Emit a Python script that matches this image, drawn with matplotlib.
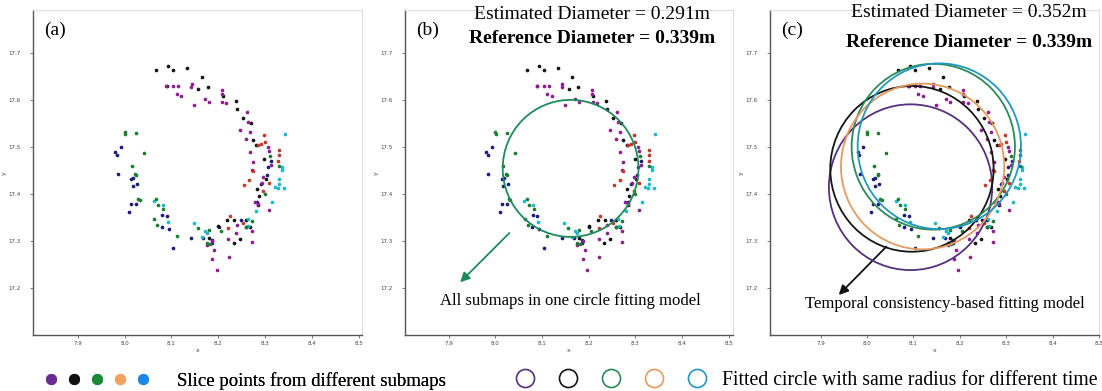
import matplotlib
matplotlib.use("Agg")
import matplotlib.pyplot as plt
from matplotlib.lines import Line2D
from matplotlib.legend_handler import HandlerTuple
from matplotlib.patches import Circle

plt.rcParams['font.family'] = ['DejaVu Sans']
SERIF = ['Liberation Serif', 'DejaVu Serif']

# ---- slice points from different submaps (x, y in metres) ----
navy_x = [7.983, 7.980, 7.992, 7.985, 8.013, 8.018, 8.017, 8.027, 8.013, 8.024, 8.009,
          8.080, 8.090, 8.079, 8.094, 8.104, 8.142, 8.168, 8.186, 8.186, 8.201, 8.283,
          8.290, 8.305, 8.312, 8.303, 8.248, 8.258]
navy_y = [17.483, 17.489, 17.500, 17.443, 17.431, 17.434, 17.417, 17.421, 17.379, 17.379, 17.361,
          17.355, 17.352, 17.329, 17.326, 17.285, 17.306, 17.307, 17.302, 17.296, 17.329, 17.382,
          17.421, 17.456, 17.469, 17.440, 17.345, 17.329]

black_x = [8.068, 8.093, 8.104, 8.134, 8.164, 8.090, 8.157, 8.177, 8.209, 8.237, 8.240,
           8.252, 8.270, 8.273, 8.281, 8.298, 8.282, 8.286, 8.285, 8.219, 8.234, 8.267,
           8.246, 8.233, 8.180, 8.200, 8.258, 8.301]
black_y = [17.663, 17.672, 17.663, 17.667, 17.649, 17.628, 17.622, 17.627, 17.607, 17.597, 17.580,
           17.561, 17.550, 17.514, 17.504, 17.473, 17.410, 17.396, 17.377, 17.345, 17.344, 17.329,
           17.305, 17.295, 17.306, 17.331, 17.345, 17.432]

purple_x = [8.088, 8.104, 8.114, 8.143, 8.142, 8.111, 8.121, 8.149, 8.171, 8.179, 8.207,
            8.207, 8.208, 8.217, 8.260, 8.263, 8.267, 8.246, 8.258, 8.267, 8.274, 8.272,
            8.305, 8.307, 8.311, 8.296, 8.292, 8.307, 8.277, 8.285, 8.240, 8.272, 8.271,
            8.238, 8.221, 8.222, 8.187, 8.191, 8.187, 8.197, 8.175]
purple_y = [17.628, 17.628, 17.630, 17.633, 17.627, 17.612, 17.607, 17.588, 17.601, 17.595, 17.621,
            17.613, 17.596, 17.593, 17.573, 17.552, 17.532, 17.536, 17.516, 17.488, 17.468, 17.451,
            17.500, 17.491, 17.462, 17.435, 17.424, 17.366, 17.382, 17.379, 17.333, 17.322, 17.297,
            17.317, 17.303, 17.265, 17.300, 17.281, 17.261, 17.239, 17.291]

red_x = [8.297, 8.300, 8.290, 8.284, 8.329, 8.329, 8.328, 8.274, 8.266, 8.255, 8.307,
         8.296, 8.224, 8.221, 8.252]
red_y = [17.524, 17.509, 17.505, 17.504, 17.492, 17.482, 17.469, 17.448, 17.429, 17.418, 17.422,
         17.407, 17.353, 17.328, 17.338]

cyan_x = [8.341, 8.335, 8.335, 8.330, 8.330, 8.320, 8.326, 8.339, 8.315, 8.280, 8.062,
          8.081, 8.092, 8.147, 8.171, 8.175, 8.165, 8.262, 8.264]
cyan_y = [17.526, 17.458, 17.450, 17.432, 17.421, 17.414, 17.413, 17.412, 17.383, 17.364, 17.385,
          17.376, 17.340, 17.338, 17.322, 17.316, 17.309, 17.347, 17.331]

green_x = [8.000, 8.001, 8.024, 8.042, 8.016, 8.023, 8.024, 8.029, 8.032, 8.068, 8.072,
           8.082, 8.063, 8.070, 8.111, 8.156, 8.179, 8.205, 8.175, 8.182, 8.272, 8.259,
           8.310, 8.300, 8.330]
green_y = [17.532, 17.528, 17.530, 17.487, 17.460, 17.443, 17.439, 17.390, 17.387, 17.389, 17.377,
           17.368, 17.347, 17.334, 17.311, 17.328, 17.324, 17.321, 17.295, 17.293, 17.342, 17.329,
           17.480, 17.400, 17.460]

# ---- fitted circles ----
fit_b_center = (8.161, 17.454)
fit_b_diameter = 0.291
# order: purple, black, green, orange, cyan
fit_c_centers_x = [8.094, 8.097, 8.143, 8.120, 8.156]
fit_c_centers_y = [17.414, 17.453, 17.500, 17.458, 17.501]
fit_c_diameter = 0.352
reference_diameter = 0.339

x_ticks = [7.9, 8.0, 8.1, 8.2, 8.3, 8.4, 8.5]
y_ticks = [17.2, 17.3, 17.4, 17.5, 17.6, 17.7]
panel_labels = ['(a)', '(b)', '(c)']

point_groups = [(navy_x, navy_y, '#1c1c7a'), (black_x, black_y, '#151515'),
                (purple_x, purple_y, '#8e1f8e'), (red_x, red_y, '#c0392b'),
                (cyan_x, cyan_y, '#1fb8c8'), (green_x, green_y, '#1e7d32')]
circle_colors = ['#55307f', '#151515', '#2a8a5a', '#e59a60', '#2596c0']

fig = plt.figure(figsize=(11.02, 3.91), dpi=100)
positions = [(0.030, 0.143, 0.2985, 0.831),
             (0.3675, 0.143, 0.2976, 0.831),
             (0.6987, 0.143, 0.2985, 0.831)]
xlims = [(7.805, 8.506), (7.806, 8.509), (7.791, 8.500)]
axes = []
for i, pos in enumerate(positions):
    ax = fig.add_axes(pos)
    for gx, gy, c in point_groups:
        ax.scatter(gx, gy, s=7, c=c, linewidths=0, zorder=3)
    ax.set_xlim(*xlims[i])
    ax.set_ylim(17.10, 17.79)
    ax.set_xticks(x_ticks)
    ax.set_yticks(y_ticks)
    ax.set_xticklabels([f'{t:.1f}' for t in x_ticks])
    ax.set_yticklabels([f'{t:.1f}' for t in y_ticks])
    ax.tick_params(labelsize=4, length=2, width=0.5, colors='#444444', pad=2)
    ax.tick_params(axis='y', pad=7)
    ax.set_xlabel('x', fontsize=4.5, labelpad=2, color='#444444')
    ax.set_ylabel('y', fontsize=4.5, labelpad=1, color='#444444')
    for s in ['left', 'bottom']:
        ax.spines[s].set_color('#555555')
        ax.spines[s].set_linewidth(1.0)
    for s in ['top', 'right']:
        ax.spines[s].set_color('#dddddd')
        ax.spines[s].set_linewidth(0.8)
    ax.text(0.035, 0.965, panel_labels[i], transform=ax.transAxes, fontsize=14,
            family=SERIF, va='top', ha='left')
    axes.append(ax)

# (b) single circle fit
axb = axes[1]
axb.add_patch(Circle(fit_b_center, fit_b_diameter / 2, fill=False, ec='#1f8a5a', lw=1.3, zorder=4))
axb.text(0.570, 0.988, f'Estimated Diameter = {fit_b_diameter:.3f}m', transform=axb.transAxes,
         fontsize=14, family=SERIF, ha='center', va='center')
axb.text(0.570, 0.913, f'Reference Diameter = {reference_diameter:.3f}m', transform=axb.transAxes,
         fontsize=14, family=SERIF, weight='bold', ha='center', va='center')
axb.annotate('', xy=(7.92, 17.208), xytext=(8.034, 17.321),
             arrowprops=dict(arrowstyle='-|>', color='#1f8a5a', lw=1.3, mutation_scale=14))
axb.text(8.160, 17.172, 'All submaps in one circle fitting model', fontsize=12,
         family=SERIF, ha='center', va='center')

# (c) temporal consistency circles
axc = axes[2]
for cx, cy, c in zip(fit_c_centers_x, fit_c_centers_y, circle_colors):
    axc.add_patch(Circle((cx, cy), fit_c_diameter / 2, fill=False, ec=c, lw=1.3, zorder=4))
axc.text(0.605, 0.994, f'Estimated Diameter = {fit_c_diameter:.3f}m', transform=axc.transAxes,
         fontsize=14, family=SERIF, ha='center', va='center')
axc.text(0.605, 0.902, f'Reference Diameter = {reference_diameter:.3f}m', transform=axc.transAxes,
         fontsize=14, family=SERIF, weight='bold', ha='center', va='center')
axc.annotate('', xy=(7.935, 17.181), xytext=(8.046, 17.292),
             arrowprops=dict(arrowstyle='-|>', color='#111111', lw=1.3, mutation_scale=14))
axc.text(8.168, 17.167, 'Temporal consistency-based fitting model', fontsize=12,
         family=SERIF, ha='center', va='center')

# bottom legends
legend_dot_colors = ['#6a2c91', '#111111', '#1a8a3a', '#f4a060', '#1e88e5']
dots = tuple(Line2D([], [], ls='none', marker='o', ms=7, mfc=c, mec=c) for c in legend_dot_colors)
rings = tuple(Line2D([], [], ls='none', marker='o', ms=13, mfc='none', mec=c, mew=1.2)
              for c in circle_colors)
leg1 = fig.legend([dots], ['Slice points from different submaps'],
                  handler_map={tuple: HandlerTuple(ndivide=None, pad=0.69)},
                  loc='center left', bbox_to_anchor=(0.0417, 0.026), frameon=False,
                  borderaxespad=0, borderpad=0,
                  handlelength=5.44, handletextpad=1.55,
                  prop={'family': SERIF, 'size': 13.5})
fig.add_artist(leg1)
fig.legend([rings], ['Fitted circle with same radius for different time'],
           handler_map={tuple: HandlerTuple(ndivide=None, pad=1.268)},
           loc='center left', bbox_to_anchor=(0.4682, 0.026), frameon=False,
           borderaxespad=0, borderpad=0,
           handlelength=9.63, handletextpad=0.81,
           prop={'family': SERIF, 'size': 14.2})

fig.savefig('out.png', dpi=100)
